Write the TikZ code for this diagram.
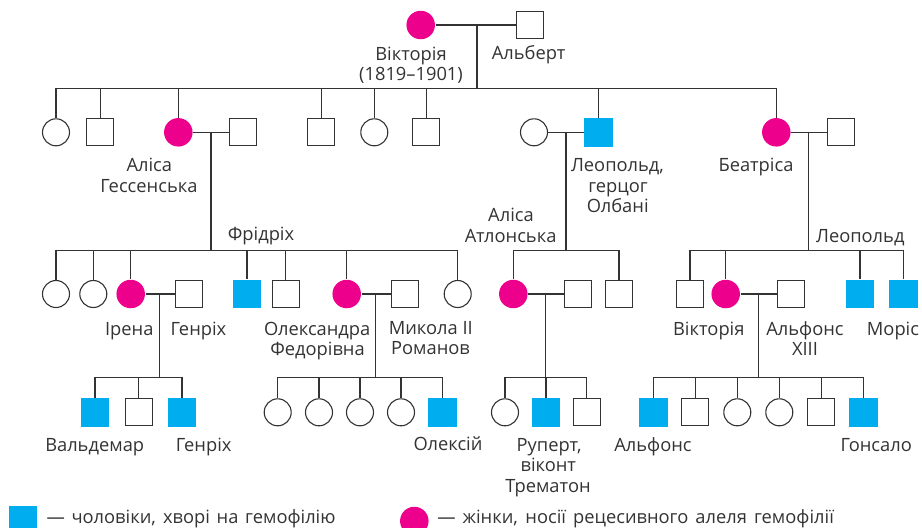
\documentclass[tikz,border=0pt]{standalone}
\usepackage{fontspec}
\setmainfont{Open Sans}
\definecolor{carrier}{HTML}{EC008C}
\definecolor{sick}{HTML}{00AEEF}
\definecolor{ln}{HTML}{333333}
\begin{document}
\begin{tikzpicture}[x=1pt,y=-1pt,
  line width=1.1pt,
  color=ln,
  fem/.style={circle,draw=ln,line width=1.1pt,minimum size=27pt,inner sep=0},
  mal/.style={rectangle,draw=ln,line width=1.1pt,minimum size=27pt,inner sep=0},
  car/.style={circle,fill=carrier,draw=none,minimum size=28.5pt,inner sep=0},
  hem/.style={rectangle,fill=sick,draw=none,minimum size=28.5pt,inner sep=0},
  lbl/.style={font=\fontsize{18.3}{22}\selectfont,inner sep=0,anchor=base,text=ln}]
\useasboundingbox (0,0) rectangle (922,528);
\clip (0,0) rectangle (922,528);

% generation 1
\node[car] (v) at (420.7,25) {};
\node[mal] (al) at (529.7,25) {};
\coordinate (m0) at (477,25);
\coordinate (b0) at (477,88.3);
\draw (v) -- (al);
\draw (m0) -- (b0);

% generation 2
\node[fem] (c1) at (56,132.3) {};
\node[mal] (c2) at (100.3,132.3) {};
\node[car] (ah) at (178.3,132.3) {};
\node[mal] (ahh) at (243.3,132.3) {};
\node[mal] (c5) at (321.3,132.3) {};
\node[fem] (c6) at (374.3,132.3) {};
\node[mal] (c7) at (426.3,132.3) {};
\node[fem] (lw) at (534,132.3) {};
\node[hem] (lp) at (598.7,132.3) {};
\node[car] (be) at (776.3,132.3) {};
\node[mal] (beh) at (841.3,132.3) {};
\foreach \c in {c1,c2,ah,c5,c6,c7,lp,be} \draw (b0) -| (\c.north);

\draw (ah) -- (ahh);
\draw (lw) -- (lp);
\draw (be) -- (beh);
\coordinate (m1) at (211,132.3);
\coordinate (m2) at (566,132.3);
\coordinate (m3) at (808.7,132.3);
\coordinate (b1) at (211,250.7);
\coordinate (b2) at (566,250.7);
\coordinate (b3) at (808.7,250.7);
\draw (m1) -- (b1);
\draw (m2) -- (b2);
\draw (m3) -- (b3);

% generation 3
\node[fem] (d1) at (56,294) {};
\node[fem] (d2) at (93.3,294) {};
\node[car] (ir) at (130.7,294) {};
\node[mal] (irh) at (189.3,294) {};
\node[hem] (d5) at (247,294) {};
\node[mal] (d6) at (285.7,294) {};
\node[car] (ax) at (346.7,294) {};
\node[mal] (ni) at (404.7,294) {};
\node[fem] (d9) at (457.7,294) {};
\foreach \c in {d1,d2,ir,d5,d6,ax,d9} \draw (b1) -| (\c.north);

\node[car] (aa) at (513.3,294) {};
\node[mal] (aah) at (578.3,294) {};
\node[mal] (e3) at (619,294) {};
\foreach \c in {aa,e3} \draw (b2) -| (\c.north);

\node[mal] (f1) at (690,294) {};
\node[car] (vi) at (725.7,294) {};
\node[mal] (vih) at (791,294) {};
\node[hem] (f4) at (860,294) {};
\node[hem] (f5) at (903.3,294) {};
\foreach \c in {f1,vi,f4,f5} \draw (b3) -| (\c.north);

\draw (ir) -- (irh);
\draw (ax) -- (ni);
\draw (aa) -- (aah);
\draw (vi) -- (vih);
\coordinate (m4) at (159.3,294);
\coordinate (m5) at (375.3,294);
\coordinate (m6) at (545.7,294);
\coordinate (m7) at (758.3,294);
\coordinate (b4) at (159.3,377.3);
\coordinate (b5) at (375.3,377.3);
\coordinate (b6) at (545.7,377.3);
\coordinate (b7) at (758.3,377.3);
\draw (m4) -- (b4);
\draw (m5) -- (b5);
\draw (m6) -- (b6);
\draw (m7) -- (b7);

% generation 4
\node[hem] (g1) at (95,412.3) {};
\node[mal] (g2) at (138.7,412.3) {};
\node[hem] (g3) at (182,412.3) {};
\foreach \c in {g1,g2,g3} \draw (b4) -| (\c.north);

\node[fem] (h1) at (277.7,412.3) {};
\node[fem] (h2) at (319,412.3) {};
\node[fem] (h3) at (360,412.3) {};
\node[fem] (h4) at (401,412.3) {};
\node[hem] (h5) at (442.3,412.3) {};
\foreach \c in {h1,h2,h3,h4,h5} \draw (b5) -| (\c.north);

\node[fem] (k1) at (505,412.3) {};
\node[hem] (k2) at (546,412.3) {};
\node[mal] (k3) at (586.7,412.3) {};
\foreach \c in {k1,k2,k3} \draw (b6) -| (\c.north);

\node[hem] (n1) at (653.3,412.3) {};
\node[mal] (n2) at (695.3,412.3) {};
\node[fem] (n3) at (737.3,412.3) {};
\node[fem] (n4) at (779.3,412.3) {};
\node[mal] (n5) at (821.3,412.3) {};
\node[hem] (n6) at (863.3,412.3) {};
\foreach \c in {n1,n2,n3,n4,n5,n6} \draw (b7) -| (\c.north);

% labels
\node[lbl] (t1) at (411,60) {Вікторія};
\node[lbl] (t2) at (411,80) {(1819–1901)};
\node[lbl] (t3) at (528.6,59.3) {Альберт};
\node[lbl] (t4) at (149.3,171.7) {Аліса};
\node[lbl] (t5) at (149,192.3) {Гессенська};
\node[lbl] (t6) at (617.5,171.7) {Леопольд,};
\node[lbl] (t7) at (618,192.3) {герцог};
\node[lbl] (t8) at (617.7,212.7) {Олбані};
\node[lbl] (t9) at (756,171.7) {Беатріса};
\node[lbl] (t10) at (511,221.7) {Аліса};
\node[lbl] (t11) at (510.7,242.5) {Атлонська};
\node[lbl] (t12) at (261,240.5) {Фрідріх};
\node[lbl] (t13) at (860.3,242.5) {Леопольд};
\node[lbl] (t14) at (129.3,335) {Ірена};
\node[lbl] (t15) at (198.5,335) {Генріх};
\node[lbl] (t16) at (317.2,335) {Олександра};
\node[lbl] (t17) at (317.5,355) {Федорівна};
\node[lbl] (t18) at (430.8,334.5) {Микола II};
\node[lbl] (t19) at (430.5,354.5) {Романов};
\node[lbl] (t20) at (708.8,335) {Вікторія};
\node[lbl] (t21) at (805,335) {Альфонс};
\node[lbl] (t22) at (805,355) {XIII};
\node[lbl] (t23) at (893,335) {Моріс};
\node[lbl] (t24) at (94.7,451.3) {Вальдемар};
\node[lbl] (t25) at (203.7,451.3) {Генріх};
\node[lbl] (t26) at (448,450.5) {Олексій};
\node[lbl] (t27) at (549.2,451.3) {Руперт,};
\node[lbl] (t28) at (548.3,471.7) {віконт};
\node[lbl] (t29) at (548,492) {Трематон};
\node[lbl] (t30) at (653,451.3) {Альфонс};
\node[lbl] (t31) at (876.2,451.3) {Гонсало};

% legend
\node[hem] (lg1) at (23,520.3) {};
\node[car] (lg2) at (414.3,521) {};
\node[lbl,anchor=base west] (lt1) at (46,523.5) {\makebox[289pt][s]{— чоловіки, хворі на гемофілію}};
\node[lbl,anchor=base west] (lt2) at (436.7,523.5) {\makebox[396.6pt][s]{— жінки, носії рецесивного алеля гемофілії}};
\end{tikzpicture}
\end{document}
